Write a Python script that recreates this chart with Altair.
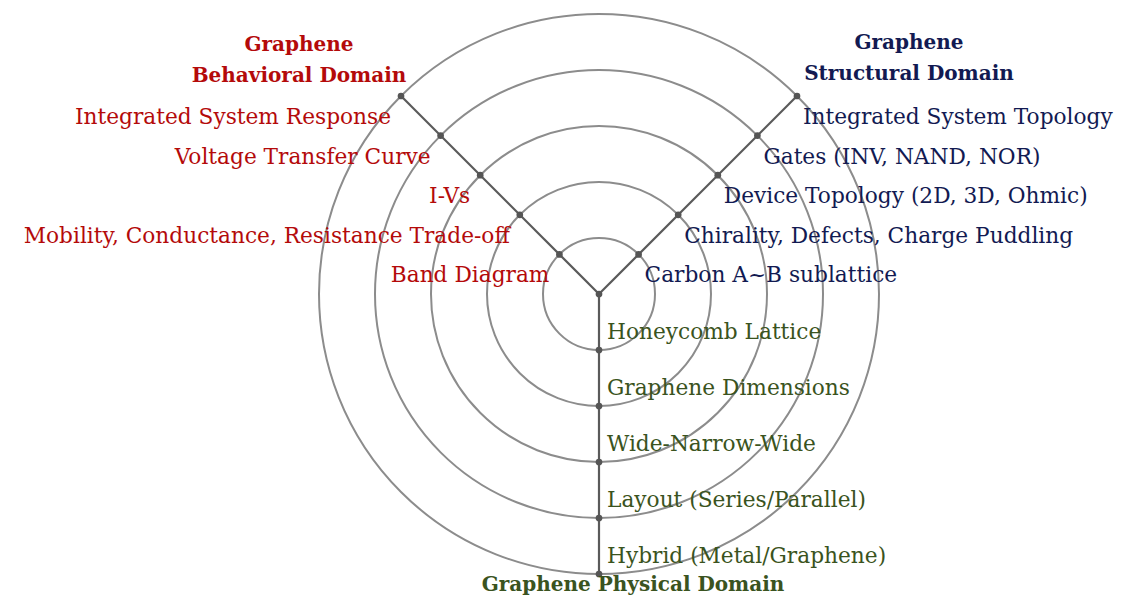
import altair as alt
import pandas as pd

levels = [1, 2, 3, 4, 5]
domains = ["Behavioral", "Structural", "Physical"]
domain_angles = [135, 45, 270]
behavioral_labels = ["Band Diagram", "Mobility, Conductance, Resistance Trade-off", "I-Vs",
                     "Voltage Transfer Curve", "Integrated System Response"]
structural_labels = ["Carbon A~B sublattice", "Chirality, Defects, Charge Puddling",
                     "Device Topology (2D, 3D, Ohmic)", "Gates (INV, NAND, NOR)",
                     "Integrated System Topology"]
physical_labels = ["Honeycomb Lattice", "Graphene Dimensions", "Wide-Narrow-Wide",
                   "Layout (Series/Parallel)", "Hybrid (Metal/Graphene)"]
titles = ["Graphene\nBehavioral Domain", "Graphene\nStructural Domain", "Graphene Physical Domain"]

RED = "#b40a0a"
NAVY = "#121a52"
GREEN = "#3a5320"
FONT = "DejaVu Serif"
FS = 21.7
TFS = 20

W, H = 1108, 588
PX = 56.0
cx, cy = 591, 286
xdom = [-cx / PX, (W - cx) / PX]
ydom = [-(H - cy) / PX, cy / PX]
xs = alt.Scale(domain=xdom, nice=False, zero=False)
ys = alt.Scale(domain=ydom, nice=False, zero=False)

calc = dict(x="datum.r * cos(datum.a * PI / 180)", y="datum.r * sin(datum.a * PI / 180)")

rings = pd.DataFrame({"r": levels, "cx": [0] * len(levels), "cy": [0] * len(levels)})
circles = alt.Chart(rings).mark_point(shape="circle", filled=False, stroke="#8c8c8c",
                                      strokeWidth=2, opacity=1).encode(
    x=alt.X("cx:Q", scale=xs, axis=None),
    y=alt.Y("cy:Q", scale=ys, axis=None),
    size=alt.Size("r:Q", scale=alt.Scale(type="pow", exponent=2, domain=[0, 5],
                                          range=[0, 4 * (5 * PX) ** 2]), legend=None),
)

axes_df = pd.DataFrame({"d": domains, "a": domain_angles, "r": [5] * 3, "zero": [0] * 3})
spokes = alt.Chart(axes_df).transform_calculate(**calc).mark_rule(
    color="#5a5a5a", strokeWidth=2.2).encode(
    x=alt.X("zero:Q", scale=xs, axis=None), y=alt.Y("zero:Q", scale=ys, axis=None),
    x2="x:Q", y2="y:Q")

node_rows = [{"r": 0, "a": 0}]
for d, a in zip(domains, domain_angles):
    for lv in levels:
        node_rows.append({"r": lv, "a": a})
nodes = alt.Chart(pd.DataFrame(node_rows)).transform_calculate(**calc).mark_point(
    shape="circle", filled=True, color="#555555", size=45, opacity=1).encode(
    x=alt.X("x:Q", scale=xs, axis=None), y=alt.Y("y:Q", scale=ys, axis=None))


def label_layer(labels, angle, color, align, dx, dy):
    df = pd.DataFrame({"r": levels, "a": [angle] * len(levels), "t": labels})
    return alt.Chart(df).transform_calculate(**calc).mark_text(
        align=align, baseline="middle", dx=dx, dy=dy, font=FONT, fontSize=FS, color=color).encode(
        x=alt.X("x:Q", scale=xs, axis=None), y=alt.Y("y:Q", scale=ys, axis=None), text="t:N")


lab_b = label_layer(behavioral_labels, 135, RED, "right", -10, 21)
lab_s = label_layer(structural_labels, 45, NAVY, "left", 6, 21)
lab_p = label_layer(physical_labels, 270, GREEN, "left", 8, -18)


def title_layer(i, color, dx, dy, baseline="middle"):
    df = pd.DataFrame({"r": [5], "a": [domain_angles[i]], "t": [titles[i]]})
    return alt.Chart(df).transform_calculate(**calc).mark_text(
        align="center", baseline=baseline, dx=dx, dy=dy, font=FONT, fontSize=TFS,
        fontWeight="bold", color=color, lineBreak="\n", lineHeight=31).encode(
        x=alt.X("x:Q", scale=xs, axis=None), y=alt.Y("y:Q", scale=ys, axis=None), text="t:N")


tit_b = title_layer(0, RED, -102, -51)
tit_s = title_layer(1, NAVY, 112, -53)
tit_p = title_layer(2, GREEN, 34, 17, baseline="alphabetic")

chart = alt.layer(circles, spokes, nodes, lab_b, lab_s, lab_p, tit_b, tit_s, tit_p).properties(
    width=W, height=H, padding=0, autosize=alt.AutoSizeParams(type="none")
).configure_view(stroke=None)

chart.save("out.html", embed_options={"renderer": "svg", "actions": False})
